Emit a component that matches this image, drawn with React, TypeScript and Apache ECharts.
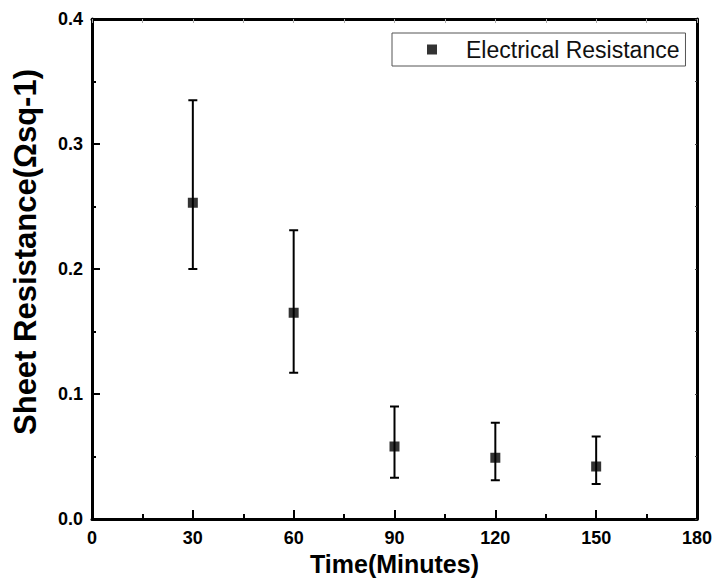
import React, { useEffect, useRef } from "react";
import * as echarts from "echarts";

const times = [30, 60, 90, 120, 150];
const resistance = [0.253, 0.165, 0.058, 0.049, 0.042];
const errLow = [0.2, 0.117, 0.033, 0.031, 0.028];
const errHigh = [0.335, 0.231, 0.09, 0.077, 0.066];

const seriesName = "Electrical Resistance";
const xTitle = "Time(Minutes)";
const yTitle = "Sheet Resistance(Ωsq-1)";

const FONT = "Arial, 'Liberation Sans', Helvetica, sans-serif";

export default function App() {
  const ref = useRef<HTMLDivElement>(null);

  useEffect(() => {
    if (!ref.current) return;
    const chart = echarts.init(ref.current, undefined, { renderer: "svg" });

    const scatterData = times.map((t, i) => [t, resistance[i]]);
    const errData = times.map((t, i) => [t, errLow[i], errHigh[i]]);

    const tickLabel = {
      fontFamily: FONT,
      fontSize: 18,
      fontWeight: 700,
      color: "#000",
    };

    const option: any = {
      animation: false,
      backgroundColor: "#ffffff",
      textStyle: { fontFamily: FONT },
      grid: {
        left: 92,
        right: 19,
        top: 19,
        bottom: 68,
        outerBoundsMode: "none",
      },
      legend: {
        data: [seriesName],
        left: 392,
        top: 33,
        orient: "horizontal",
        padding: [5, 6, 5, 35],
        itemWidth: 10,
        itemHeight: 10,
        icon: "rect",
        borderColor: "#555",
        borderWidth: 1,
        backgroundColor: "#fff",
        textStyle: {
          fontFamily: FONT,
          fontSize: 23,
          color: "#111",
          padding: [0, 0, 0, 24],
        },
      },
      xAxis: [
        {
          type: "value",
          min: 0,
          max: 180,
          interval: 30,
          position: "bottom",
          name: xTitle,
          nameLocation: "middle",
          nameGap: 20,
          nameTextStyle: {
            fontFamily: FONT,
            fontSize: 25,
            fontWeight: "bold",
            color: "#000",
          },
          axisLine: { show: true, onZero: false, lineStyle: { color: "#000", width: 3 } },
          axisTick: { show: true, inside: true, length: 9, lineStyle: { color: "#000", width: 2 } },
          minorTick: { show: true, splitNumber: 2, length: 5, lineStyle: { color: "#000", width: 2 } },
          axisLabel: { ...tickLabel, margin: 10 },
          splitLine: { show: false },
        },
        {
          type: "value",
          min: 0,
          max: 180,
          interval: 15,
          position: "top",
          axisLine: { show: true, onZero: false, lineStyle: { color: "#000", width: 3 } },
          axisTick: { show: true, inside: true, length: 4, lineStyle: { color: "#aaa", width: 1 } },
          axisLabel: { show: false },
          splitLine: { show: false },
        },
      ],
      yAxis: [
        {
          type: "value",
          min: 0,
          max: 0.4,
          interval: 0.1,
          position: "left",
          name: yTitle,
          nameLocation: "middle",
          nameGap: 51,
          nameTextStyle: {
            fontFamily: FONT,
            fontSize: 31,
            fontWeight: "bold",
            color: "#000",
            padding: [0, 0, 0, 34],
          },
          axisLine: { show: true, onZero: false, lineStyle: { color: "#000", width: 3 } },
          axisTick: { show: true, inside: true, length: 8, lineStyle: { color: "#000", width: 2 } },
          minorTick: { show: true, splitNumber: 2, length: 4, lineStyle: { color: "#000", width: 2 } },
          axisLabel: {
            ...tickLabel,
            margin: 9,
            formatter: (v: number) => v.toFixed(1),
          },
          splitLine: { show: false },
        },
        {
          type: "value",
          min: 0,
          max: 0.4,
          interval: 0.05,
          position: "right",
          axisLine: { show: true, onZero: false, lineStyle: { color: "#000", width: 3 } },
          axisTick: { show: true, inside: true, length: 2, lineStyle: { color: "#444", width: 1 } },
          axisLabel: { show: false },
          splitLine: { show: false },
        },
      ],
      series: [
        {
          name: "errorbars",
          type: "custom",
          xAxisIndex: 0,
          yAxisIndex: 0,
          data: errData,
          encode: { x: 0, y: [1, 2] },
          z: 2,
          renderItem: (params: any, api: any) => {
            const x = api.value(0);
            const lo = api.value(1);
            const hi = api.value(2);
            const pLo = api.coord([x, lo]);
            const pHi = api.coord([x, hi]);
            const hw = 4.5;
            const style = { stroke: "#000", lineWidth: 2 };
            return {
              type: "group",
              children: [
                { type: "line", shape: { x1: pLo[0], y1: pLo[1], x2: pHi[0], y2: pHi[1] }, style },
                { type: "line", shape: { x1: pLo[0] - hw, y1: pLo[1], x2: pLo[0] + hw, y2: pLo[1] }, style },
                { type: "line", shape: { x1: pHi[0] - hw, y1: pHi[1], x2: pHi[0] + hw, y2: pHi[1] }, style },
              ],
            };
          },
        },
        {
          name: seriesName,
          type: "scatter",
          xAxisIndex: 0,
          yAxisIndex: 0,
          data: scatterData,
          symbol: "rect",
          symbolSize: 10,
          itemStyle: { color: "#000" },
          z: 3,
        },
      ],
    };

    chart.setOption(option);
    return () => chart.dispose();
  }, []);

  return (
    <div
      ref={ref}
      style={{ position: "absolute", left: 0, top: 0, width: 716, height: 587 }}
    />
  );
}
